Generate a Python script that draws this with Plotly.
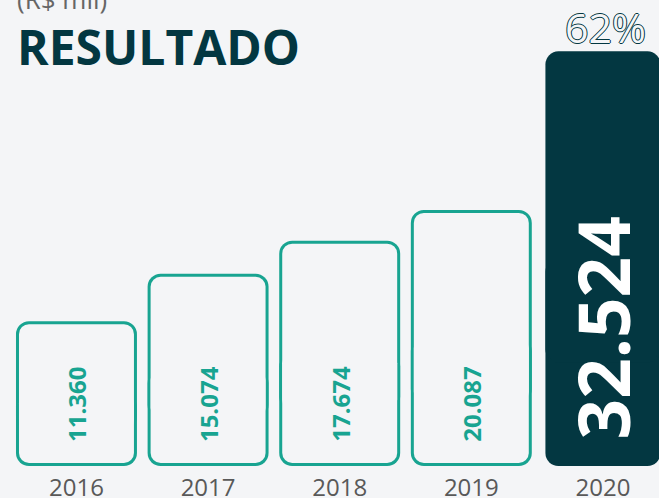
import plotly.graph_objects as go

# ---- data ----
years = ["2016", "2017", "2018", "2019", "2020"]
values = [11360, 15074, 17674, 20087, 32524]
value_labels = ["11.360", "15.074", "17.674", "20.087", "32.524"]
highlight = [False, False, False, False, True]
growth_label = "62%"
title_text = "RESULTADO"
unit_text = "(R$ mil)"

# ---- style / layout constants ----
W, H = 659, 498
BG = "#f4f5f7"
TEAL = "#18a491"
DARK = "#033741"
GREY = "#595959"
MT, MB, ML, MR = 0, 32, 0, 0
PLOT_H = H - MT - MB
PLOT_W = W - ML - MR
Y_MAX = 36550
X_RANGE = [-0.581, 4.426]
PX_X = PLOT_W / (X_RANGE[1] - X_RANGE[0])
PX_Y = PLOT_H / Y_MAX
STROKE = 3
DX = STROKE / PX_X
DY = STROKE / PX_Y
bar_w = [0.919 if not h else 0.874 for h in highlight]

outer_col = [DARK if h else TEAL for h in highlight]
inner_col = [DARK if h else BG for h in highlight]

fig = go.Figure()
# outer (stroke colour) rounded boxes, built from two halves so both ends are rounded
fig.add_trace(go.Bar(x=years, y=[-v / 2 for v in values], base=[v / 2 for v in values],
                     width=bar_w, marker=dict(color=outer_col, cornerradius=13, line_width=0),
                     hoverinfo="skip"))
fig.add_trace(go.Bar(x=years, y=[3 * v / 4 for v in values], base=[v / 4 for v in values],
                     width=bar_w, marker=dict(color=outer_col, cornerradius=13, line_width=0),
                     hoverinfo="skip"))
# inner fill
fig.add_trace(go.Bar(x=years, y=[-(v / 2 - DY) for v in values], base=[v / 2 for v in values],
                     width=[w - 2 * DX for w in bar_w],
                     marker=dict(color=inner_col, cornerradius=10, line_width=0),
                     hoverinfo="skip"))
fig.add_trace(go.Bar(x=years, y=[3 * v / 4 - DY for v in values], base=[v / 4 for v in values],
                     width=[w - 2 * DX for w in bar_w],
                     marker=dict(color=inner_col, cornerradius=10, line_width=0),
                     hoverinfo="skip"))

annotations = []
for i, (lab, h) in enumerate(zip(value_labels, highlight)):
    annotations.append(dict(
        x=i, y=0, xref="x", yref="y", text=lab, textangle=-90, showarrow=False,
        yanchor="bottom", xanchor="center", yshift=25 if h else 22,
        font=dict(family="Open Sans", size=71 if h else 24, color="#ffffff" if h else TEAL,
                  weight=700),
    ))

def py(p):
    return 1 - (p - MT) / PLOT_H

annotations.append(dict(
    x=len(years) - 1, xref="x", xshift=3, y=py(27), yref="paper", text=growth_label,
    showarrow=False, xanchor="center", yanchor="middle",
    font=dict(family="Open Sans", size=41, color=BG,
              shadow=("1px 0 0 %s, -1px 0 0 %s, 0 1px 0 %s, 0 -1px 0 %s") % ((DARK,) * 4)),
))
annotations.append(dict(
    x=15 / W, xref="paper", y=py(46), yref="paper", text=title_text, showarrow=False,
    xanchor="left", yanchor="middle",
    font=dict(family="Open Sans", size=48, color=DARK, weight=700),
))
annotations.append(dict(
    x=15 / W, xref="paper", y=py(-1), yref="paper", text=unit_text, showarrow=False,
    xanchor="left", yanchor="middle",
    font=dict(family="Open Sans", size=26, color="#666666"),
))

fig.update_layout(
    width=W, height=H,
    margin=dict(t=MT, b=MB, l=ML, r=MR, pad=0, autoexpand=False),
    paper_bgcolor=BG, plot_bgcolor=BG,
    barmode="overlay", showlegend=False,
    annotations=annotations,
    xaxis=dict(type="category", range=X_RANGE, showgrid=False, zeroline=False, showline=False,
               ticks="", ticklabelstandoff=5, automargin=False,
               tickfont=dict(family="Open Sans", size=24, color=GREY),
               fixedrange=True),
    yaxis=dict(range=[0, Y_MAX], visible=False, fixedrange=True, automargin=False),
)

fig.write_html("out.html", config={"displayModeBar": False},
               post_script="document.body.style.margin='0';document.body.style.overflow='hidden';")
